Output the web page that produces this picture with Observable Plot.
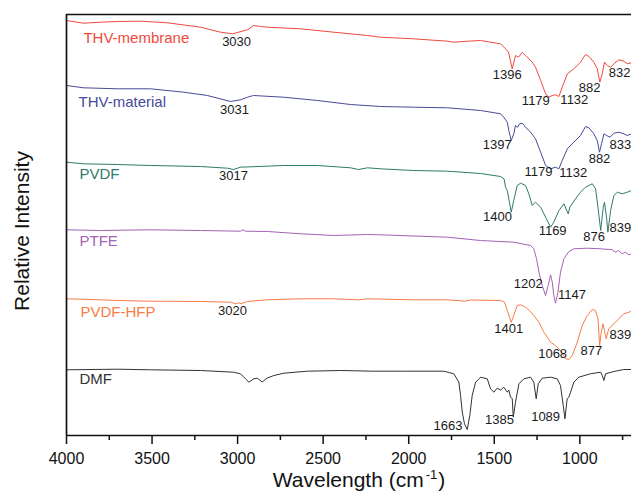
<!DOCTYPE html>
<html><head><meta charset="utf-8">
<script src="https://cdn.jsdelivr.net/npm/d3@7"></script>
<script src="https://cdn.jsdelivr.net/npm/@observablehq/plot@0.6"></script>
<style>html,body{margin:0;padding:0;background:#fff;overflow:hidden}</style>
</head><body><div id="chart"></div>
<script>
// [wavenumber (cm-1), relative intensity (a.u., offset per spectrum)]
const thvMembrane = [[4000,415],[3901,412.3],[3801,413.3],[3702,414],[3567,414.3],[3410,412.7],[3217,408.3],[3100,403.3],[3030,401.7],[2942,405.7],[2907,410],[2866,409],[2825,408.3],[2632,406.7],[2439,403.3],[2241,400],[2165,398.3],[1972,396.7],[1773,394.3],[1738,393.3],[1656,394.3],[1580,395],[1463,391.7],[1434,386.7],[1417,383.3],[1395,366.7],[1376,380],[1358,378.3],[1336,383.3],[1317,380],[1278,373.3],[1259,368.3],[1229,355],[1200,341.7],[1181,338.3],[1161,340],[1142,340.7],[1122,339],[1103,348.3],[1073,361.7],[1035,366.7],[996,373.3],[967,381],[947,379],[918,373.3],[898,366.7],[883,353.3],[869,361.7],[856,373.3],[840,370],[820,368.3],[801,371.7],[772,375.7],[743,374.3],[723,371.7],[698,372.7]];
const thvMaterial = [[4000,350],[3901,347.7],[3702,346.7],[3509,346.7],[3316,343.3],[3176,340],[3041,334],[2983,335.7],[2942,338.3],[2907,340],[2732,338.3],[2533,335],[2340,331],[2165,329],[1972,328.3],[1773,327.7],[1580,325],[1463,321.7],[1445,318.3],[1424,313.3],[1415,305],[1401,295],[1386,301.7],[1376,310],[1364,308.3],[1352,311.7],[1336,312.3],[1317,308.3],[1288,303.3],[1259,296.7],[1229,283.3],[1200,270],[1171,266.7],[1142,268.3],[1122,266.7],[1103,275],[1073,286.7],[1035,293.3],[996,300],[967,309],[947,307.7],[918,301.7],[898,295],[885,283.3],[873,291.7],[859,301.7],[844,300],[823,298.3],[801,302.3],[772,303.3],[743,301.7],[723,300],[698,301.7]];
const pvdf = [[4000,273.3],[3901,271.7],[3702,271],[3509,270],[3217,269],[3059,267.3],[3024,266],[2983,268.3],[2732,270],[2533,270],[2340,267.7],[2293,266],[2241,267.7],[2165,266.7],[1972,265],[1773,264.3],[1580,262],[1463,259],[1443,256.7],[1434,248.3],[1424,245],[1401,223.3],[1386,235],[1366,250],[1346,252.3],[1317,250],[1298,241.7],[1278,230],[1259,233.3],[1229,228.3],[1200,218.3],[1171,208.3],[1152,213.3],[1122,225],[1093,231.7],[1068,221.7],[1058,228.3],[1025,236.7],[996,243.3],[967,248.3],[927,251.7],[908,246.7],[894,228.3],[878,205],[863,228.3],[856,233.3],[844,218.3],[836,203.3],[820,225],[801,240],[781,243.3],[752,241.7],[723,243.3],[698,245]];
const ptfe = [[4000,205.7],[3801,205],[3509,205.7],[3217,205],[2983,204.3],[2971,205.7],[2954,204.3],[2825,204],[2632,201.7],[2439,200],[2241,201],[2165,200.7],[1773,198.3],[1580,195],[1386,193.3],[1288,190],[1269,186.7],[1253,176.7],[1239,163.3],[1220,150],[1200,140],[1185,150],[1171,160.7],[1161,153.3],[1152,140],[1142,132.3],[1128,143.3],[1113,163.3],[1093,176.7],[1064,184],[1035,186.7],[957,187.3],[878,186.7],[810,185.7],[791,183.3],[774,185],[752,181.7],[734,183.3],[713,180.7],[698,181.7]];
const pvdfHfp = [[4000,136.7],[3801,135.7],[3702,135],[3509,134.3],[3217,134],[3041,133.3],[3012,131.7],[2995,132.7],[2979,131.7],[2944,134],[2825,135.7],[2632,136.7],[2439,136.7],[2293,135.7],[2241,136.7],[1972,135.7],[1773,135.7],[1668,134.3],[1639,135.5],[1463,135],[1440,133.3],[1424,125],[1401,113.3],[1386,120],[1366,130],[1346,130.7],[1317,128.3],[1288,124],[1269,120],[1239,113.3],[1210,103.3],[1171,93.3],[1142,90],[1113,85],[1083,76.7],[1064,76],[1044,80],[1015,93.3],[986,110],[957,120],[927,126],[908,125],[894,116.7],[884,90],[875,103.3],[864,111.7],[856,105],[846,96.7],[831,106.7],[801,111.7],[772,116.7],[743,121.7],[713,123.3],[698,125]];
const dmf = [[4000,65.7],[3702,66.3],[3509,65.7],[3217,65],[3024,63.3],[2983,61.7],[2954,56.7],[2934,53.3],[2905,56.7],[2885,57.3],[2856,53.5],[2827,57.5],[2788,60],[2730,62.3],[2593,64.3],[2398,65],[2204,64.3],[2009,64.3],[1795,64.3],[1736,61.7],[1707,53.3],[1697,40],[1687,23.3],[1674,11.7],[1658,6],[1643,20],[1629,40],[1609,53.3],[1580,58.3],[1541,56.7],[1522,46.7],[1502,43.3],[1483,47.3],[1463,45.5],[1444,48.3],[1424,43.3],[1415,45.5],[1405,38.3],[1395,37],[1389,18.3],[1376,33.3],[1356,51.7],[1327,56.7],[1288,58.3],[1269,53.3],[1255,36.7],[1243,51.7],[1220,57.3],[1171,58.3],[1132,56.7],[1113,50],[1097,30],[1087,16.7],[1074,36.7],[1064,38.3],[1054,43.3],[1035,53.3],[1006,58.3],[938,61.7],[878,63.3],[869,60],[859,55],[850,61.7],[801,64],[743,66],[698,66]];

const seriesNames = ["THV-membrane","THV-material","PVDF","PTFE","PVDF-HFP","DMF"];
const seriesColors = ["#f0493c","#474a98","#2e7b6b","#a463b5","#f77c4a","#333333"];
const seriesLabelWn = [3901,3930,3924,3924,3918,3924];
const seriesLabelY = [397.3,333.3,261.7,194,123.3,56.7];

// [text, wavenumber position, intensity position, anchor]
const peakLabels = [
  ["3030",3006,393.3,"middle"],["1396",1424,361,"middle"],["1179",1257,335,"middle"],["1132",1032,336,"middle"],["882",943,347.7,"middle"],["832",768,362.7,"middle"],
  ["3031",3018,326,"middle"],["1397",1483,291,"middle"],["1179",1241,263.3,"middle"],["1132",1038,262.3,"middle"],["882",885,276.7,"middle"],["833",700,290.7,"end"],
  ["3017",3024,259.3,"middle"],["1400",1481,219,"middle"],["1169",1159,205,"middle"],["876",917,198.3,"middle"],["839",700,207.3,"end"],
  ["1202",1302,151.7,"middle"],["1147",1046,140.7,"middle"],
  ["3020",3030,124.3,"middle"],["1401",1416,106.7,"middle"],["1068",1159,81.7,"middle"],["877",932,85,"middle"],["839",700,100.7,"end"],
  ["1663",1770,10,"middle"],["1385",1469,16,"middle"],["1089",1200,19,"middle"]
];

const majorTicks = [4000,3500,3000,2500,2000,1500,1000];
const minorTicks = [3750,3250,2750,2250,1750,1250,750];

const allSeries = [thvMembrane, thvMaterial, pvdf, ptfe, pvdfHfp, dmf];
const rows = [];
allSeries.forEach((arr, i) => arr.forEach(([w, v]) => rows.push({series: seriesNames[i], w, v})));
const nameRows = seriesNames.map((s, i) => ({series: s, w: seriesLabelWn[i], v: seriesLabelY[i]}));
const peakRows = peakLabels.map(([t, w, v, a]) => ({t, w, v, a}));

const font = "'Liberation Sans', Arial, Helvetica, sans-serif";
const plot = Plot.plot({
  width: 631, height: 491,
  marginTop: 14, marginBottom: 56, marginLeft: 66, marginRight: 0,
  style: {fontFamily: font, background: "#fff", color: "#111"},
  x: {domain: [4000, 698]},
  y: {domain: [0, 421], axis: null},
  color: {domain: seriesNames, range: seriesColors},
  marks: [
    Plot.line(rows, {x: "w", y: "v", z: "series", stroke: "series", strokeWidth: 1}),
    Plot.text(nameRows, {x: "w", y: "v", text: "series", fill: "series", textAnchor: "start", fontSize: 15}),
    Plot.text(peakRows.filter(d => d.a === "middle"), {x: "w", y: "v", text: "t", fill: "#1a1a1a", fontSize: 13, textAnchor: "middle"}),
    Plot.text(peakRows.filter(d => d.a === "end"), {x: "w", y: "v", text: "t", fill: "#1a1a1a", fontSize: 13, textAnchor: "end"}),
    Plot.ruleX([4000], {stroke: "#111", strokeWidth: 1.7}),
    Plot.ruleY([0], {stroke: "#111", strokeWidth: 1.7}),
    Plot.ruleY([421], {stroke: "#111", strokeWidth: 1.7}),
    Plot.axisX(majorTicks, {tickSize: 9, tickPadding: 8, fontSize: 16, strokeWidth: 1.5, label: null, tickFormat: d => String(d)}),
    Plot.axisX(minorTicks, {tickSize: 5, strokeWidth: 1.5, label: null, tickFormat: () => ""})
  ]
});

const svg = d3.select(plot);
const xt = svg.append("text")
  .attr("x", 359).attr("y", 487)
  .attr("text-anchor", "middle")
  .attr("font-size", 21).attr("font-family", font).attr("fill", "#111");
xt.append("tspan").text("Wavelength (cm");
xt.append("tspan").attr("font-size", 13).attr("dy", -8).attr("dx", 2).text("-1");
xt.append("tspan").attr("dy", 8).attr("dx", 1).text(")");
svg.append("text")
  .attr("transform", "translate(29,231) rotate(-90)")
  .attr("text-anchor", "middle")
  .attr("font-size", 21).attr("font-family", font).attr("fill", "#111")
  .text("Relative Intensity");

document.getElementById("chart").appendChild(plot);
</script>
</body></html>
